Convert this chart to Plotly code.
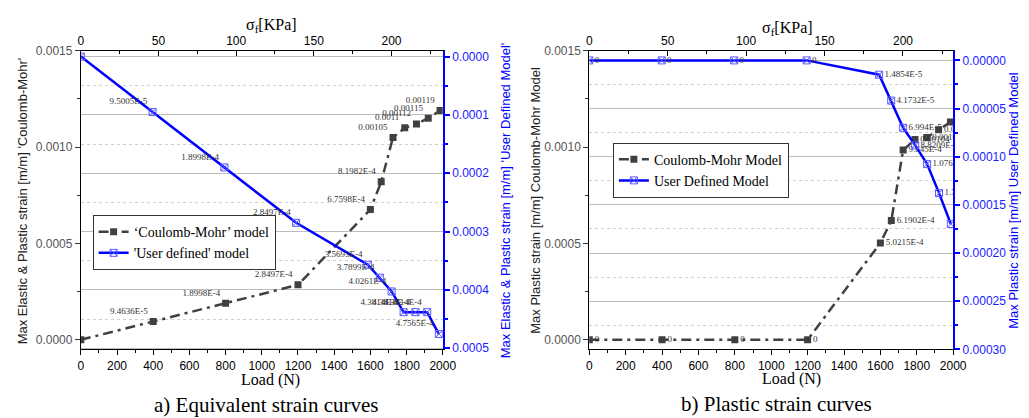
import plotly.graph_objects as go

W, H = 1029, 418

# ---------------- data ----------------
load = [0, 400, 800, 1200, 1600, 1660, 1725, 1790, 1855, 1920, 1985]
sigma = [0, 46.2, 92.4, 138.6, 184.8, 192.5, 200.1, 207.8, 215.4, 223.0, 230.5]

cm_a = [0, 9.4636e-5, 1.8998e-4, 2.8497e-4, 6.7598e-4, 8.1982e-4,
        0.00105, 0.0011, 0.00112, 0.00115, 0.00119]
cm_a_lbl = ["", "9.4636E-5", "1.8998E-4", "2.8497E-4", "6.7598E-4", "8.1982E-4",
            "0.00105", "0.0011", "0.00112", "0.00115", "0.00119"]
ud_a = [0, 9.5005e-5, 1.8998e-4, 2.8497e-4, 3.5693e-4, 3.7899e-4,
        4.0261e-4, 4.3814e-4, 4.3818e-4, 4.3814e-4, 4.7565e-4]
ud_a_lbl = ["", "9.5005E-5", "1.8998E-4", "2.8497E-4", "3.5693E-4", "3.7899E-4",
            "4.0261E-4", "4.3814E-4", "4.3818E-4", "4.3814E-4", "4.7565E-4"]

cm_b = [0, 0, 0, 0, 5.0215e-4, 6.1902e-4, 9.845e-4, 0.00104, 0.00105, 0.00109, 0.00113]
cm_b_lbl = ["0", "0", "0", "0", "5.0215E-4", "6.1902E-4", "9.845E-4",
            "0.00104", "0.00105", "0.00109", "0.00113"]
ud_b = [0, 0, 0, 0, 1.4854e-5, 4.1732e-5, 6.994e-5, 8.8209e-5, 1.07651e-4, 1.3777e-4, 1.6984e-4]
ud_b_lbl = ["0", "0", "0", "0", "1.4854E-5", "4.1732E-5", "6.994E-5", "8.8209E-5",
            "1.07651E-4", "1.3777E-4", "1.6984E-4"]

# ---------------- style ----------------
GREY = '#404040'
BLUE = '#0000ff'
MBLUE = '#5a5aff'
SANS = 'Liberation Sans'
SERIF = 'Liberation Serif'
DASH = '10px,5px,3px,5px'

da = [71 / W, 439 / W]
db = [588 / W, 958 / W]
dy = [1 - 346 / H, 1 - 37 / H]


def cm_trace(y, txt, xa, ya, name, pos, leg):
    return go.Scatter(x=load, y=y, text=txt, mode='lines+markers+text', name=name,
                      xaxis=xa, yaxis=ya, legend=leg,
                      line=dict(color=GREY, width=2.5, dash=DASH),
                      marker=dict(symbol='square', size=7, color=GREY),
                      textposition=pos,
                      textfont=dict(family=SERIF, size=9, color='#333333'))


def ud_trace(y, txt, xa, ya, name, pos, leg):
    return go.Scatter(x=sigma, y=y, text=txt, mode='lines+markers+text', name=name,
                      xaxis=xa, yaxis=ya, legend=leg,
                      line=dict(color=BLUE, width=2.5),
                      marker=dict(symbol='square-x-open', size=7, color=MBLUE,
                                  line=dict(width=1, color=MBLUE)),
                      textposition=pos,
                      textfont=dict(family=SERIF, size=9, color='#333333'))


fig = go.Figure()
fig.add_trace(cm_trace(cm_a, cm_a_lbl, 'x', 'y', '\u2018Coulomb-Mohr\u2019 model', 'top left', 'legend'))
fig.add_trace(ud_trace(ud_a, ud_a_lbl, 'x2', 'y2', "'User defined' model", 'top left', 'legend'))
fig.add_trace(cm_trace(cm_b, cm_b_lbl, 'x3', 'y3', 'Coulomb-Mohr Model', 'middle right', 'legend2'))
fig.add_trace(ud_trace(ud_b, ud_b_lbl, 'x4', 'y4', 'User Defined Model', 'middle right', 'legend2'))


def xbottom(domain, anchor):
    return dict(domain=domain, anchor=anchor, range=[0, 2000], dtick=200, tick0=0,
                showline=True, linecolor='black', linewidth=1,
                ticks='outside', ticklen=5, tickcolor='black', tickwidth=1,
                minor=dict(dtick=100, ticks='outside', ticklen=3, tickcolor='black'),
                showgrid=False, zeroline=False,
                tickfont=dict(family=SANS, size=12, color='black'))


def xtop(overlay, anchor, rng):
    return dict(overlaying=overlay, anchor=anchor, side='top', range=rng, dtick=50, tick0=0,
                showline=True, linecolor='black', linewidth=1,
                ticks='inside', ticklen=5, tickcolor='black',
                minor=dict(dtick=25, ticks='inside', ticklen=3, tickcolor='black'),
                showgrid=False, zeroline=False,
                tickfont=dict(family=SANS, size=12, color='black'))


def yleft(anchor):
    return dict(domain=dy, anchor=anchor, range=[-0.00005, 0.0015], dtick=0.0005, tick0=0,
                tickformat='.4f', showline=True, linecolor='black', linewidth=1,
                ticks='outside', ticklen=5, tickcolor='#333333',
                minor=dict(dtick=0.00025, ticks='outside', ticklen=3, tickcolor='#333333'),
                showgrid=False, zeroline=False,
                tickfont=dict(family=SANS, size=12, color='#555555'))


def yright(overlay, anchor, rng, dt, fmt):
    return dict(overlaying=overlay, anchor=anchor, side='right', range=rng, dtick=dt, tick0=0,
                tickformat=fmt, showline=True, linecolor=BLUE, linewidth=2,
                ticks='outside', ticklen=5, tickcolor=BLUE, tickwidth=1.5,
                showgrid=True, gridcolor='#bdbdbd', gridwidth=1,
                minor=dict(dtick=dt / 2, ticks='outside', ticklen=3, tickcolor=BLUE,
                           showgrid=True, gridcolor='#cfcfcf', griddash='dot', gridwidth=1),
                zeroline=False,
                tickfont=dict(family=SANS, size=12, color='#1a1aff'))


legend_common = dict(xanchor='left', yanchor='top', bgcolor='white',
                     bordercolor='#333333', borderwidth=1, tracegroupgap=0,
                     itemwidth=30,
                     font=dict(family=SERIF, size=14, color='black'))

fig.update_layout(
    width=W, height=H, autosize=False,
    margin=dict(l=0, r=0, t=0, b=0),
    paper_bgcolor='white', plot_bgcolor='rgba(0,0,0,0)',
    xaxis=xbottom(da, 'y'),
    yaxis=yleft('x'),
    xaxis2=xtop('x', 'y', [0, 233]),
    yaxis2=yright('y', 'x', [0.000502, -0.00001], 0.0001, '.4f'),
    xaxis3=xbottom(db, 'y3'),
    yaxis3=yleft('x3'),
    xaxis4=xtop('x3', 'y3', [0, 232]),
    yaxis4=yright('y3', 'x3', [0.0003, -0.00001], 0.00005, '.5f'),
    legend=dict(x=83 / W, y=1 - 207 / H, **legend_common),
    legend2=dict(x=612 / W, y=1 - 132 / H, **legend_common),
)


def ann(text, px, py, size, color='black', family=SERIF, angle=0):
    return dict(text=text, x=px / W, y=1 - py / H, xref='paper', yref='paper',
                showarrow=False, xanchor='center', yanchor='middle', textangle=angle,
                font=dict(family=family, size=size, color=color))


fig.update_layout(annotations=[
    ann("Max Elastic &amp; Plastic strain [m/m] 'Coulomb-Mohr'", 12, 192, 13, '#222222', SANS, -90),
    ann("Max Elastic &amp; Plastic strain [m/m] 'User Defined Model'", 503, 192, 13, BLUE, SANS, -90),
    ann("Max Plastic strain [m/m] Coulomb-Mohr Model", 533, 192, 13, '#222222', SANS, -90),
    ann("Max Plastic strain [m/m] User Defined Model", 1019, 192, 13, BLUE, SANS, -90),
    ann("Load (N)", 264, 378, 16),
    ann("Load (N)", 794, 377, 16),
    ann("σ<sub>f</sub>[KPa]", 265, 11, 16),
    ann("σ<sub>f</sub>[KPa]", 790, 14, 16),
    ann("a) Equivalent strain curves", 260, 403, 21),
    ann("b) Plastic strain curves", 778, 402, 21),
])

fig.write_html("out.html")
